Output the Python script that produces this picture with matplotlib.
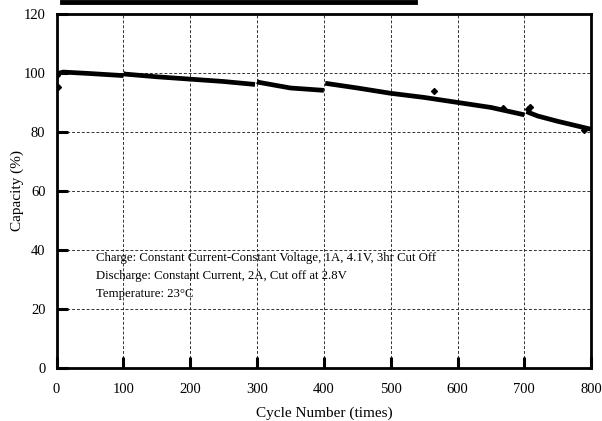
import matplotlib
matplotlib.use('Agg')
import matplotlib.pyplot as plt
from matplotlib.lines import Line2D

plt.rcParams['font.family'] = ['Liberation Serif', 'DejaVu Serif']

# capacity fade, one list per test block (capacity re-measured at 100/300/400/700)
seg_cycles = [
    [3, 10, 50, 100],
    [100, 103, 150, 200, 250, 297],
    [300, 303, 350, 400],
    [402, 450, 500, 550, 600, 650, 700],
    [703, 720, 750, 800],
]
seg_capacity = [
    [99.8, 100.2, 99.7, 99.0],
    [99.7, 99.5, 98.6, 97.8, 97.0, 96.0],
    [97.0, 96.7, 94.8, 94.0],
    [96.4, 94.8, 93.0, 91.6, 89.9, 88.2, 85.7],
    [86.8, 85.3, 83.5, 80.8],
]
odd_cycles = [1, 2, 565, 668, 706, 708, 790]
odd_capacity = [99.2, 95.0, 93.8, 88.0, 87.8, 88.5, 80.6]

x_ticks = [0, 100, 200, 300, 400, 500, 600, 700, 800]
y_ticks = [0, 20, 40, 60, 80, 100, 120]

notes = ["Charge: Constant Current-Constant Voltage, 1A, 4.1V, 3hr Cut Off",
         "Discharge: Constant Current, 2A, Cut off at 2.8V",
         "Temperature: 23\u00b0C"]

fig = plt.figure(figsize=(6.02, 4.21), dpi=100)
ax = fig.add_axes([0.094, 0.127, 0.888, 0.8405])

for cx, cy in zip(seg_cycles, seg_capacity):
    ax.plot(cx, cy, color='black', lw=3.4, solid_capstyle='butt')
ax.plot(odd_cycles, odd_capacity, 'D', color='black', ms=3)

ax.set_xlim(0, 800)
ax.set_ylim(0, 120)
ax.set_xticks(x_ticks)
ax.set_yticks(y_ticks)
ax.grid(True, ls=(0, (3, 2)), color='#333333', lw=0.7)
ax.tick_params(axis='x', direction='in', length=8, width=2.2, labelsize=10.5, pad=11)
ax.tick_params(axis='y', direction='in', length=8, width=2.2, labelsize=10.5, pad=8)
for s in ax.spines.values():
    s.set_linewidth(2)

ax.set_xlabel('Cycle Number (times)', fontsize=11, labelpad=8)
ax.set_ylabel('Capacity (%)', fontsize=11, labelpad=0)

for i, t in enumerate(notes):
    ax.text(59, 37.3 - i * 6.1, t, fontsize=9.2, va='center', ha='left')

# cut-off title bar at the very top
fig.add_artist(Line2D([0.103, 0.69], [0.996, 0.996], color='black', lw=3.5,
                      transform=fig.transFigure))

fig.savefig('out.png', dpi=100)
